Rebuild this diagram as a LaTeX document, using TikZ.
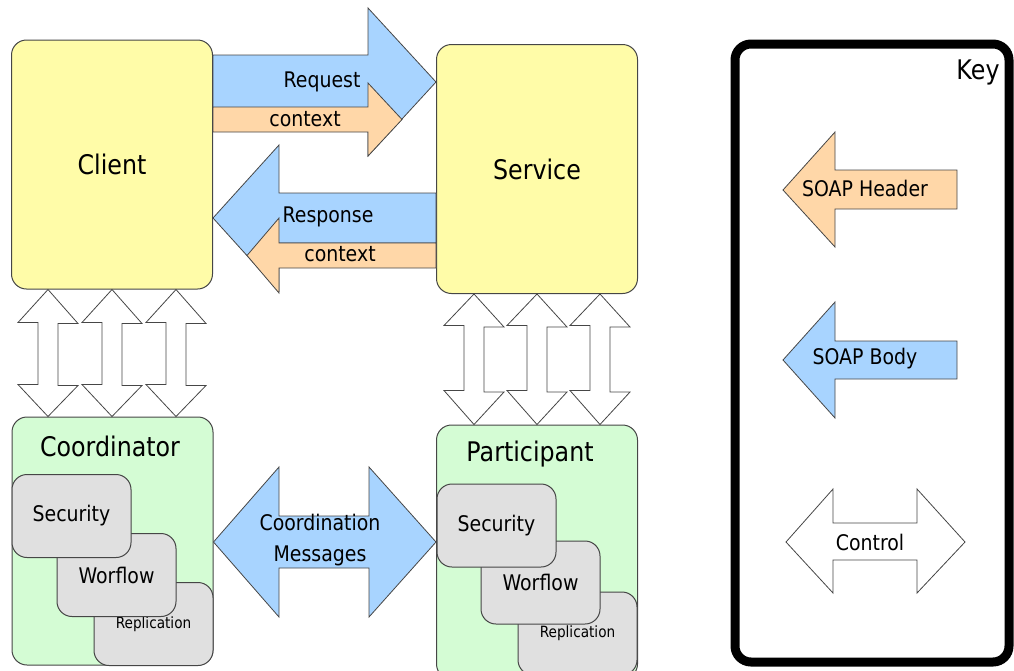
\documentclass[tikz,border=0pt]{standalone}
\usepackage{fontspec}
\setmainfont{DejaVu Sans}[FakeStretch=0.88]
\usepackage{tikz}
\usetikzlibrary{positioning}
\definecolor{partyyellow}{RGB}{255,252,168}
\definecolor{bodyblue}{RGB}{168,212,255}
\definecolor{headerorange}{RGB}{255,215,168}
\definecolor{rolegreen}{RGB}{212,252,212}
\definecolor{extgrey}{RGB}{224,224,224}
\definecolor{edgegrey}{RGB}{70,70,70}
\newcommand{\bigtxt}{\fontsize{27}{30}\selectfont}
\newcommand{\midtxt}{\fontsize{21.5}{31}\selectfont}
\newcommand{\smalltxt}{\fontsize{15.5}{18}\selectfont}

\begin{document}
\begin{tikzpicture}[x=1pt,y=-1pt,
    box/.style={draw=edgegrey,line width=1pt,rounded corners=15pt,inner sep=0pt},
    partybox/.style={box,fill=partyyellow,minimum width=201pt,minimum height=249pt,font=\bigtxt},
    rolebox/.style={box,fill=rolegreen,minimum width=201pt,minimum height=248pt},
    extbox/.style={box,fill=extgrey,minimum width=119pt,minimum height=83pt,font=\midtxt},
    keybox/.style={draw=black,line width=9pt,rounded corners=16pt,minimum width=274pt,minimum height=618pt},
    blk/.style={draw=edgegrey,line width=0.8pt,line join=miter},
    body/.style={blk,fill=bodyblue},
    header/.style={blk,fill=headerorange},
    ctrl/.style={blk,fill=white},
    lbl/.style={inner sep=0pt,font=\midtxt}]
    \useasboundingbox (0,0) rectangle (1014,670);

    % client and service
    \node[partybox] (client) at (112,164.5) {Client};
    \node[partybox] (service) at (537,169) {Service};

    % coordinator side
    \node[rolebox] (coord) at (112.5,541) {};
    \node[font=\bigtxt,inner sep=0pt] (coordtxt) at (110,446) {Coordinator};
    \node[extbox,font=\smalltxt] (crep) at (153.5,624) {Replication};
    \node[extbox] (cwork) at (116.5,575) {Worflow};
    \node[extbox] (csec) at (71.5,516) {Security};

    % participant side
    \node[rolebox,minimum height=254pt] (partic) at (537,552) {};
    \node[font=\bigtxt,inner sep=0pt] (partictxt) at (530,454) {Participant};
    \node[extbox,font=\smalltxt] (prep) at (577.5,633.5) {Replication};
    \node[extbox] (pwork) at (540.5,582.5) {Worflow};
    \node[extbox] (psec) at (496.5,525.5) {Security};

    % request and response
    \draw[body] (client.east |- 0,55) -- (368,55) -- (368,8) -- (service.west |- 0,82)
        -- (368,156) -- (368,109) -- (client.east |- 0,109) -- cycle;
    \draw[header] (client.east |- 0,107) -- (368,107) -- (368,83) -- (402,119.5)
        -- (368,156) -- (368,132) -- (client.east |- 0,132) -- cycle;
    \draw[body] (service.west |- 0,193) -- (279,193) -- (279,145) -- (client.east |- 0,218)
        -- (279,291) -- (279,243) -- (service.west |- 0,243) -- cycle;
    \draw[header] (service.west |- 0,243) -- (279,243) -- (279,218) -- (247,255.5)
        -- (279,293) -- (279,268) -- (service.west |- 0,268) -- cycle;
    \node[lbl] (reqtxt) at (322,82) {Request};
    \node[lbl] (reqctx) at (305,119) {context};
    \node[lbl] (restxt) at (328,217) {Response};
    \node[lbl] (resctx) at (340,254) {context};

    % control
    \foreach \cx in {48,112,176}
        \draw[ctrl] (client.south -| \cx,0) -- ++(30,34) -- ++(-20,0) -- ++(0,62) -- ++(20,0)
            -- (coord.north -| \cx,0) -- ++(-30,-32) -- ++(20,0) -- ++(0,-62) -- ++(-20,0) -- cycle;
    \foreach \cx in {474,537,600}
        \draw[ctrl] (service.south -| \cx,0) -- ++(30,33) -- ++(-20,0) -- ++(0,65) -- ++(20,0)
            -- (partic.north -| \cx,0) -- ++(-30,-34) -- ++(20,0) -- ++(0,-65) -- ++(-20,0) -- cycle;

    % coordination messages
    \draw[body] (coord.east |- 0,542) -- (279,467) -- (279,516) -- (369,516) -- (369,467)
        -- (partic.west |- 0,542) -- (369,617) -- (369,568) -- (279,568) -- (279,617) -- cycle;
    \node[lbl,align=center] (coordmsg) at (320,540) {Coordination\\Messages};

    % key
    \node[keybox] (key) at (872,353) {};
    \node[font=\bigtxt,inner sep=0pt] (keytxt) at (978,72) {Key};
    \draw[header] (957,170) -- (835,170) -- (835,132) -- (783,190) -- (835,247) -- (835,209) -- (957,209) -- cycle;
    \node[lbl] (hdrtxt) at (865,188) {SOAP Header};
    \draw[body] (957,341) -- (835,341) -- (835,302) -- (783,360) -- (835,418) -- (835,379) -- (957,379) -- cycle;
    \node[lbl] (bodytxt) at (865,359) {SOAP Body};
    \draw[ctrl] (786,542) -- (833,489) -- (833,523) -- (917,523) -- (917,489) -- (965,542)
        -- (917,593) -- (917,560) -- (833,560) -- (833,593) -- cycle;
    \node[lbl] (ctrltxt) at (870,542) {Control};
\end{tikzpicture}
\end{document}
